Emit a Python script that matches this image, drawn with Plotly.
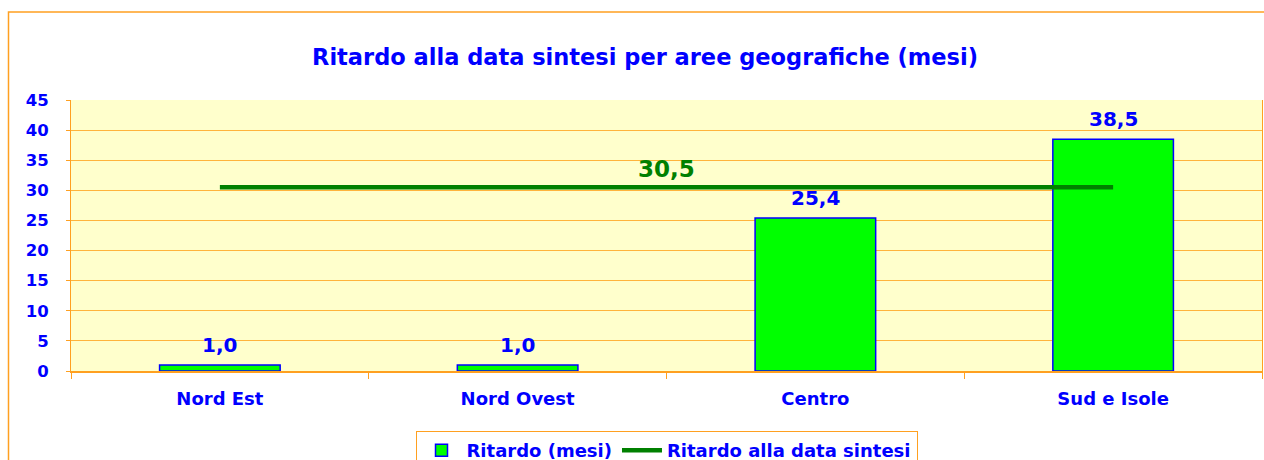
import plotly.graph_objects as go

categories = ["Nord Est", "Nord Ovest", "Centro", "Sud e Isole"]
ritardo_mesi = [1.0, 1.0, 25.4, 38.5]
ritardo_sintesi = [30.5, 30.5, 30.5, 30.5]
y_ticks = [0, 5, 10, 15, 20, 25, 30, 35, 40, 45]

BLUE = "#0000FF"
ORANGE = "#FFA020"
GRID = "#FFB43C"
FONT = "DejaVu Sans"

def fmt(v):
    return f"{v:.1f}".replace(".", ",")

fig = go.Figure()
fig.add_trace(go.Bar(
    x=categories, y=ritardo_mesi, name="Ritardo (mesi)",
    marker=dict(color="#00FF00", line=dict(color=BLUE, width=1.5)),
    width=0.405,
))
fig.add_trace(go.Scatter(
    x=categories, y=ritardo_sintesi, name="Ritardo alla data sintesi",
    mode="lines", line=dict(color="#008000", width=4.5),
))
for c, v in zip(categories, ritardo_mesi):
    fig.add_annotation(
        x=c, y=v, text=fmt(v), showarrow=False, yshift=20,
        font=dict(family=FONT, size=20, color=BLUE, weight="bold"),
    )
fig.add_annotation(
    x=1.5, y=ritardo_sintesi[0], text=fmt(ritardo_sintesi[0]),
    showarrow=False, yshift=18,
    font=dict(family=FONT, size=23, color="#008000", weight="bold"),
)

fig.update_layout(
    width=1264, height=460, autosize=False,
    margin=dict(l=71, r=2, t=100, b=89, autoexpand=False),
    paper_bgcolor="white", plot_bgcolor="#FFFFCC",
    title=dict(text="<b>Ritardo alla data sintesi per aree geografiche (mesi)</b>",
               x=645 / 1264, xanchor="center", xref="container",
               y=1 - 57 / 460, yanchor="middle",
               font=dict(family=FONT, size=22.5, color=BLUE)),
    showlegend=True,
    legend=dict(orientation="h", x=0.5, xanchor="center", y=-0.2214, yanchor="top",
                bordercolor=ORANGE, borderwidth=1, bgcolor="white",
                font=dict(family=FONT, size=18, color=BLUE, weight="bold"),
                traceorder="normal", itemwidth=40),
)
fig.update_xaxes(
    showgrid=False, showline=True, linecolor=ORANGE, linewidth=2,
    ticks="outside", tickson="boundaries", ticklen=6, tickcolor=ORANGE,
    ticklabelstandoff=10,
    tickfont=dict(family=FONT, size=18, color=BLUE, weight="bold"),
)
fig.update_yaxes(
    range=[0, 45], tickvals=y_ticks, showgrid=True, gridcolor=GRID, gridwidth=1,
    showline=True, linecolor=ORANGE, linewidth=1, mirror=True,
    ticks="outside", ticklen=4, tickcolor=ORANGE, zeroline=False,
    ticklabelstandoff=14,
    tickfont=dict(family=FONT, size=16.5, color=BLUE, weight="bold"),
)
# outer chart frame
fig.add_shape(type="rect", xref="paper", yref="paper",
              x0=(8.5 - 71) / 1191, x1=1.2, y0=-1.0, y1=(371 - 12) / 271,
              line=dict(color=ORANGE, width=1.5), fillcolor="rgba(0,0,0,0)", layer="below")
fig.write_html("out.html", config={"responsive": False, "displayModeBar": False},
               default_width="1264px", default_height="460px",
               post_script="document.body.style.margin='0';document.body.style.overflow='hidden';")
